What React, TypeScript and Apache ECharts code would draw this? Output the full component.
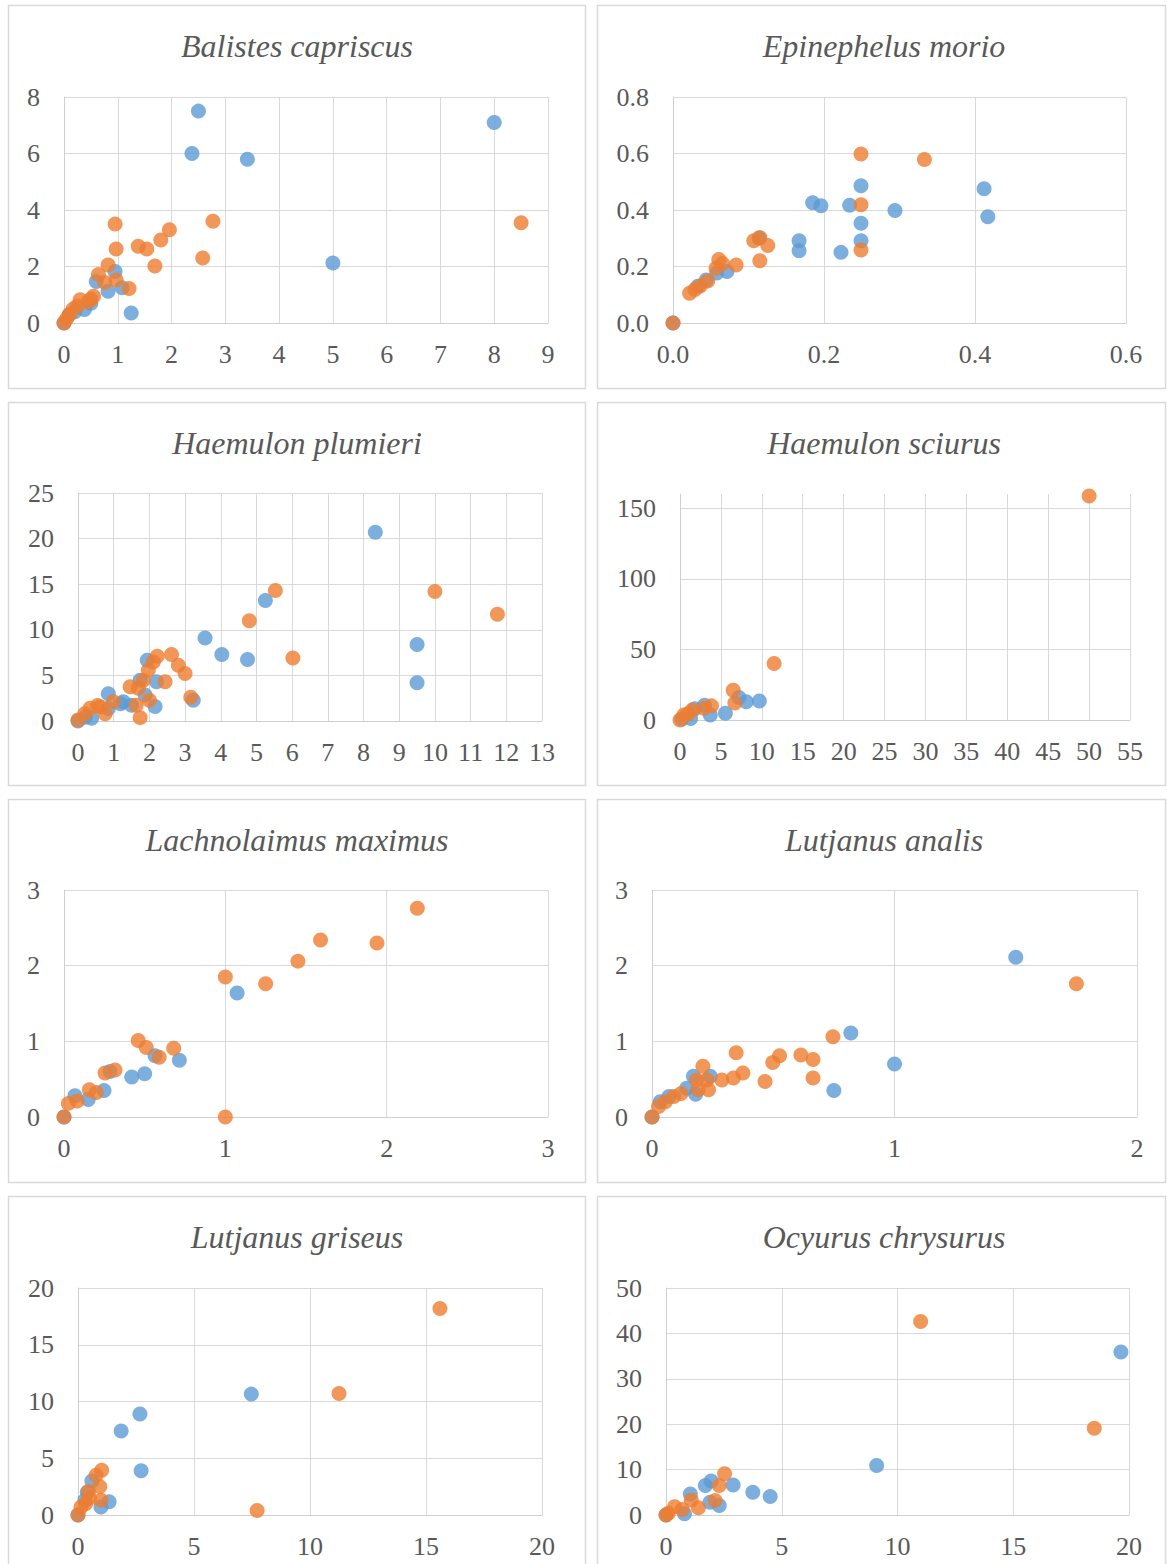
import React, { useEffect, useRef } from "react";
import * as echarts from "echarts";

const BLUE = "#5B9BD5";
const ORANGE = "#ED7D31";
const TEXT = "#595959";
const GRID = "#d9d9d9";
const FONT = "Liberation Serif, DejaVu Serif, serif";

const titles = [
  "Balistes capriscus",
  "Epinephelus morio",
  "Haemulon plumieri",
  "Haemulon sciurus",
  "Lachnolaimus maximus",
  "Lutjanus analis",
  "Lutjanus griseus",
  "Ocyurus chrysurus",
];

// Balistes capriscus
const balistesBlue = [
  [0, 0], [0.1, 0.3], [0.2, 0.4], [0.38, 0.48], [0.5, 0.7], [0.6, 1.47], [0.82, 1.12],
  [0.95, 1.82], [1.08, 1.25], [1.25, 0.35], [2.38, 6.0], [2.5, 7.5], [3.41, 5.8], [5.0, 2.12], [8.0, 7.1],
];
const balistesOrange = [
  [0, 0], [0.05, 0.15], [0.1, 0.3], [0.17, 0.5], [0.25, 0.6], [0.3, 0.82], [0.45, 0.75], [0.5, 0.85],
  [0.55, 0.95], [0.64, 1.72], [0.76, 1.43], [0.82, 2.05], [0.97, 1.52], [0.97, 2.62], [0.95, 3.5],
  [1.21, 1.22], [1.38, 2.72], [1.54, 2.62], [1.69, 2.02], [1.8, 2.94], [1.96, 3.3], [2.58, 2.3],
  [2.77, 3.6], [8.5, 3.55],
];

// Epinephelus morio
const epinephelusBlue = [
  [0, 0], [0.033, 0.13], [0.044, 0.152], [0.058, 0.177], [0.0715, 0.182], [0.114, 0.3],
  [0.167, 0.291], [0.167, 0.256], [0.185, 0.426], [0.196, 0.415], [0.2225, 0.25], [0.234, 0.417],
  [0.249, 0.486], [0.249, 0.353], [0.249, 0.291], [0.294, 0.398], [0.412, 0.475], [0.417, 0.376],
];
const epinephelusOrange = [
  [0, 0], [0.022, 0.105], [0.029, 0.119], [0.036, 0.131], [0.046, 0.149], [0.057, 0.194],
  [0.0607, 0.225], [0.0655, 0.211], [0.0836, 0.205], [0.107, 0.291], [0.115, 0.303], [0.115, 0.22],
  [0.1255, 0.274], [0.249, 0.598], [0.249, 0.419], [0.249, 0.258], [0.333, 0.579],
];

// Haemulon plumieri
const plumieriBlue = [
  [0, 0], [0.2, 0.4], [0.38, 0.3], [0.85, 1.38], [0.85, 3.0], [1.19, 1.9], [1.27, 2.1], [1.5, 1.73],
  [1.74, 4.47], [1.88, 2.84], [1.94, 6.67], [2.16, 1.6], [2.2, 4.3], [3.23, 2.27], [3.56, 9.1],
  [4.03, 7.3], [4.75, 6.75], [5.25, 13.2], [8.33, 20.7], [9.5, 8.4], [9.5, 4.2],
];
const plumieriOrange = [
  [0, 0.1], [0.19, 0.8], [0.34, 1.4], [0.55, 1.7], [0.62, 1.57], [0.76, 0.8], [0.99, 2.1],
  [1.46, 3.75], [1.69, 3.6], [1.63, 1.73], [1.74, 0.37], [2.0, 2.27], [1.83, 4.47], [1.97, 5.57],
  [2.11, 6.48], [2.22, 7.1], [2.62, 7.3], [2.81, 6.1], [3.0, 5.2], [2.44, 4.3], [3.16, 2.6],
  [4.8, 11.0], [5.53, 14.3], [6.02, 6.9], [10.0, 14.2], [11.75, 11.7],
];

// Haemulon sciurus
const sciurusBlue = [
  [0.2, 0.5], [1.3, 1], [1.8, 8], [3.0, 10.5], [3.7, 3.5], [5.55, 4.7], [7.2, 16], [8.1, 13], [9.7, 13.5],
];
const sciurusOrange = [
  [0, 0], [0.48, 3.5], [1.0, 4.5], [1.5, 7.1], [2.94, 8.3], [3.85, 10], [6.5, 21], [6.7, 12],
  [11.5, 40], [50, 158.5],
];

// Lachnolaimus maximus
const lachnolaimusBlue = [
  [0, 0], [0.068, 0.28], [0.15, 0.23], [0.248, 0.35], [0.285, 0.6], [0.42, 0.53], [0.5, 0.57],
  [0.564, 0.81], [0.715, 0.75], [1.073, 1.64],
];
const lachnolaimusOrange = [
  [0, 0], [0.027, 0.18], [0.082, 0.21], [0.157, 0.36], [0.2, 0.325], [0.254, 0.58], [0.316, 0.62],
  [0.46, 1.01], [0.51, 0.92], [0.59, 0.79], [0.68, 0.91], [1.0, 1.85], [1.0, 0], [1.25, 1.76],
  [1.45, 2.06], [1.59, 2.34], [1.94, 2.3], [2.19, 2.76],
];

// Lutjanus analis
const analisBlue = [
  [0, 0], [0.034, 0.2], [0.07, 0.27], [0.143, 0.38], [0.171, 0.54], [0.18, 0.3], [0.24, 0.54],
  [0.75, 0.35], [0.82, 1.11], [1.0, 0.7], [1.5, 2.11],
];
const analisOrange = [
  [0, 0], [0.027, 0.14], [0.055, 0.2], [0.09, 0.27], [0.12, 0.31], [0.184, 0.49], [0.19, 0.36],
  [0.21, 0.67], [0.226, 0.49], [0.233, 0.36], [0.288, 0.49], [0.336, 0.515], [0.347, 0.85],
  [0.375, 0.58], [0.466, 0.47], [0.498, 0.72], [0.526, 0.81], [0.614, 0.82], [0.664, 0.76],
  [0.664, 0.515], [0.746, 1.06], [1.75, 1.76],
];

// Lutjanus griseus
const griseusBlue = [
  [0, 0], [0.3, 1.3], [0.4, 2.0], [0.6, 3.0], [0.99, 0.7], [1.34, 1.17], [1.86, 7.4], [2.67, 8.9],
  [2.72, 3.9], [7.47, 10.65],
];
const griseusOrange = [
  [0, 0], [0.13, 0.7], [0.33, 1.0], [0.45, 2.06], [0.5, 1.5], [0.78, 3.5], [0.94, 2.5], [0.99, 1.3],
  [1.02, 3.95], [7.72, 0.4], [11.25, 10.7], [15.6, 18.2],
];

// Ocyurus chrysurus
const ocyurusBlue = [
  [0, 0], [0.8, 0.3], [1.05, 4.6], [1.7, 6.5], [1.9, 2.8], [1.95, 7.5], [2.3, 2.1], [2.9, 6.6],
  [3.75, 5.0], [4.5, 4.1], [9.1, 10.9], [19.65, 35.9],
];
const ocyurusOrange = [
  [0, 0], [0.1, 0.4], [0.37, 1.8], [0.7, 1.2], [1.09, 3.3], [1.4, 1.6], [2.12, 3.2], [2.3, 6.5],
  [2.53, 9.1], [11.0, 42.6], [18.5, 19.1],
];

const blueSets = [balistesBlue, epinephelusBlue, plumieriBlue, sciurusBlue, lachnolaimusBlue, analisBlue, griseusBlue, ocyurusBlue];
const orangeSets = [balistesOrange, epinephelusOrange, plumieriOrange, sciurusOrange, lachnolaimusOrange, analisOrange, griseusOrange, ocyurusOrange];

// axis scales
const xMaxes = [9, 0.6, 13, 55, 3, 2, 20, 20];
const xSteps = [1, 0.2, 1, 5, 1, 1, 5, 5];
const yMaxes = [8, 0.8, 25, 160, 3, 3, 20, 50];
const ySteps = [2, 0.2, 5, 50, 1, 1, 5, 10];
const decimals = [0, 1, 0, 0, 0, 0, 0, 0];

// layout (pixels)
const grids = [
  { left: 64, top: 97, width: 484, height: 226 },
  { left: 673, top: 97, width: 453, height: 226 },
  { left: 78, top: 493, width: 464, height: 228 },
  { left: 680, top: 494, width: 450, height: 226 },
  { left: 64, top: 890, width: 484, height: 227 },
  { left: 652, top: 890, width: 485, height: 227 },
  { left: 78, top: 1288, width: 464, height: 227 },
  { left: 666, top: 1288, width: 463, height: 227 },
];
const boxes = [
  { x: 8.5, y: 5.5, w: 577, h: 383 },
  { x: 597.5, y: 5.5, w: 568, h: 383 },
  { x: 8.5, y: 402.5, w: 577, h: 383 },
  { x: 597.5, y: 402.5, w: 568, h: 383 },
  { x: 8.5, y: 799.5, w: 577, h: 383 },
  { x: 597.5, y: 799.5, w: 568, h: 383 },
  { x: 8.5, y: 1196.5, w: 577, h: 383 },
  { x: 597.5, y: 1196.5, w: 568, h: 383 },
];
const titleY = [46, 443, 840, 1237];

export default function App() {
  const ref = useRef<HTMLDivElement>(null);
  useEffect(() => {
    if (!ref.current) return;
    const chart = echarts.init(ref.current, null, { renderer: "svg" });
    const labelStyle = { color: TEXT, fontFamily: FONT, fontSize: 26 };
    const option: any = {
      animation: false,
      backgroundColor: "#ffffff",
      textStyle: { fontFamily: FONT },
      grid: grids.map((g) => ({ ...g, containLabel: false })),
      xAxis: grids.map((_, i) => ({
        type: "value",
        gridIndex: i,
        min: 0,
        max: xMaxes[i],
        interval: xSteps[i],
        axisLine: { show: true, onZero: false, lineStyle: { color: "#cfcfcf", width: 1 } },
        axisTick: { show: false },
        splitLine: { show: true, lineStyle: { color: GRID, width: 1 } },
        axisLabel: {
          ...labelStyle,
          margin: 18,
          formatter: (v: number) => v.toFixed(decimals[i]),
        },
      })),
      yAxis: grids.map((_, i) => ({
        type: "value",
        gridIndex: i,
        min: 0,
        max: yMaxes[i],
        interval: ySteps[i],
        axisLine: { show: true, lineStyle: { color: "#cfcfcf", width: 1 } },
        axisTick: { show: false },
        splitLine: { show: true, showMaxLine: i !== 3, lineStyle: { color: GRID, width: 1 } },
        axisLabel: {
          ...labelStyle,
          margin: 24,
          showMaxLabel: i !== 3,
          formatter: (v: number) => (i === 3 && v > 150 ? "" : v.toFixed(decimals[i])),
        },
      })),
      series: [
        ...blueSets.map((d, i) => ({
          type: "scatter",
          xAxisIndex: i,
          yAxisIndex: i,
          data: d,
          symbol: "circle",
          symbolSize: 15,
          clip: false,
          itemStyle: { color: BLUE },
          z: 2,
        })),
        ...orangeSets.map((d, i) => ({
          type: "scatter",
          xAxisIndex: i,
          yAxisIndex: i,
          data: d,
          symbol: "circle",
          symbolSize: 15,
          clip: false,
          itemStyle: { color: ORANGE },
          z: 3,
        })),
      ],
      graphic: [
        ...boxes.map((b) => ({
          type: "rect",
          z: -10,
          silent: true,
          shape: { x: b.x, y: b.y, width: b.w, height: b.h },
          style: { fill: "none", stroke: GRID, lineWidth: 1.5 },
        })),
        ...titles.map((t, i) => ({
          type: "text",
          x: i % 2 === 0 ? 297 : 884,
          y: titleY[Math.floor(i / 2)],
          silent: true,
          style: {
            text: t,
            fill: TEXT,
            font: "italic 32px " + FONT,
            align: "center",
            verticalAlign: "middle",
            textAlign: "center",
            textVerticalAlign: "middle",
          },
        })),
      ],
    };
    chart.setOption(option);
    return () => chart.dispose();
  }, []);
  return (
    <div
      ref={ref}
      style={{ position: "absolute", left: 0, top: 0, width: 1167, height: 1564, background: "#fff", fontFamily: FONT }}
    />
  );
}
